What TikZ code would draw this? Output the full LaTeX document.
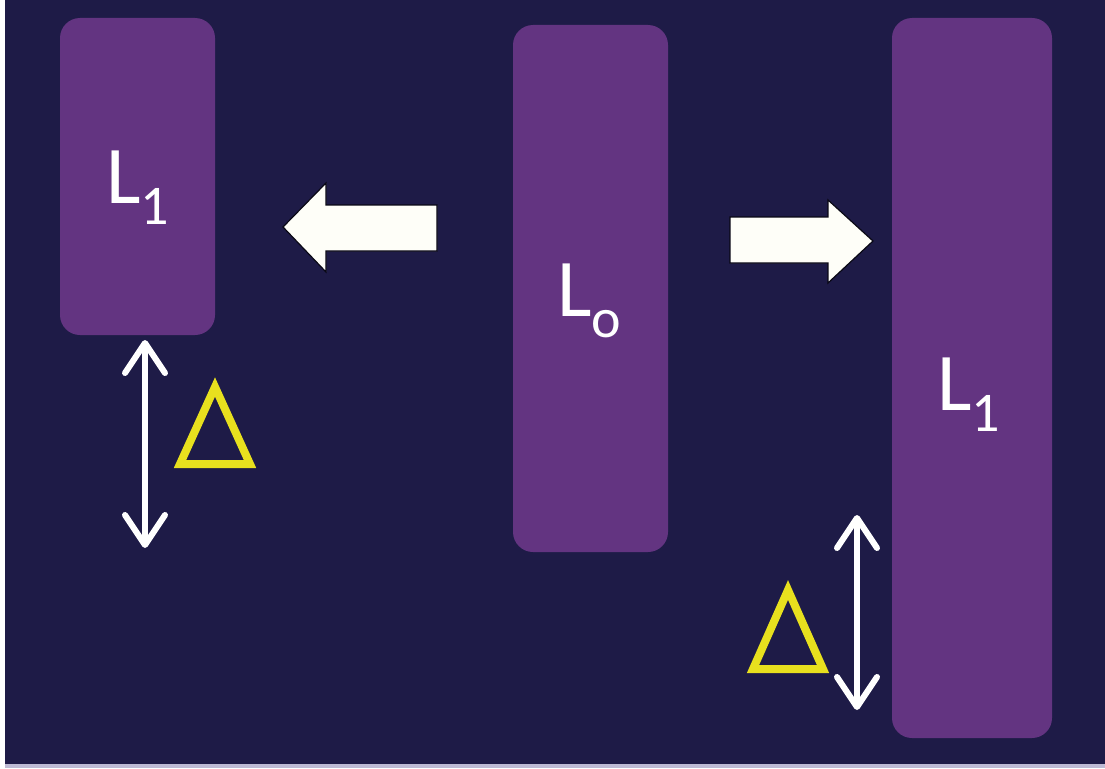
\documentclass[tikz,border=0pt]{standalone}
\usepackage{fontspec}
\setmainfont{Carlito}
\usetikzlibrary{arrows.meta}
\definecolor{navy}{HTML}{1E1B47}
\definecolor{plum}{HTML}{633481}
\definecolor{delta}{HTML}{E8E01E}
\definecolor{edge}{HTML}{BDBAD4}
\definecolor{arrowwhite}{HTML}{FEFEF8}
\tikzset{
  levelbox/.style={fill=plum, rounded corners=20pt, draw=none},
  levellabel/.style={text=white, inner sep=0pt, anchor=base west,
    font=\fontsize{82}{82}\selectfont},
  blockarrow/.style={fill=arrowwhite, draw=black!70!navy, line width=1.2pt, line join=miter},
  gaptip/.tip={Straight Barb[length=30pt,width=40pt,line width=6pt,line cap=round,line join=round]},
  gaparrow/.style={draw=white, line width=6pt, line cap=round, gaptip-gaptip},
  deltamark/.style={draw=delta, line width=8pt, line join=miter, miter limit=3}
}
\newcommand{\sublabel}[1]{{\fontsize{56}{56}\selectfont\raisebox{-21pt}{#1}}}
\begin{document}
\begin{tikzpicture}[x=1pt,y=-1pt]
  % canvas and frame
  \fill[white] (0,0) rectangle (1105,768);
  \fill[navy] (5,0) rectangle (1105,764);
  \fill[edge] (5,764) rectangle (1105,768);
  \useasboundingbox (0,0) rectangle (1105,768);

  % energy levels
  \path[levelbox] (60,18) rectangle (215,335);
  \coordinate (leftbox) at (137.5,176.5);
  \path[levelbox] (513,25) rectangle (668,552);
  \coordinate (midbox) at (590.5,288.5);
  \path[levelbox] (892,18) rectangle (1052,738);
  \coordinate (rightbox) at (972,378);

  % labels
  \node[levellabel] (lblleft) at (106,203) {L\sublabel{1}};
  \node[levellabel] (lblmid) at (557,316) {L\sublabel{o}};
  \node[levellabel] (lblright) at (937,410) {L\sublabel{1}};

  % block arrows between the levels
  \draw[blockarrow] (283,227) -- (326,183) -- (326,205) -- (437,205)
    -- (437,251) -- (326,251) -- (326,272) -- cycle;
  \draw[blockarrow] (873,241) -- (828,200) -- (828,217) -- (730,217)
    -- (730,263) -- (828,263) -- (828,283) -- cycle;

  % gap arrows
  \coordinate (gapLtop) at (145,340);
  \coordinate (gapLbot) at (145,548);
  \coordinate (gapRtop) at (857,515);
  \coordinate (gapRbot) at (857,710);
  \draw[gaparrow] (gapLtop) -- (gapLbot);
  \draw[gaparrow] (gapRtop) -- (gapRbot);

  % delta marks
  \draw[deltamark] (215,387) -- (250,464) -- (180,464) -- cycle;
  \draw[deltamark] (788,590) -- (823,669) -- (753,669) -- cycle;
\end{tikzpicture}
\end{document}
